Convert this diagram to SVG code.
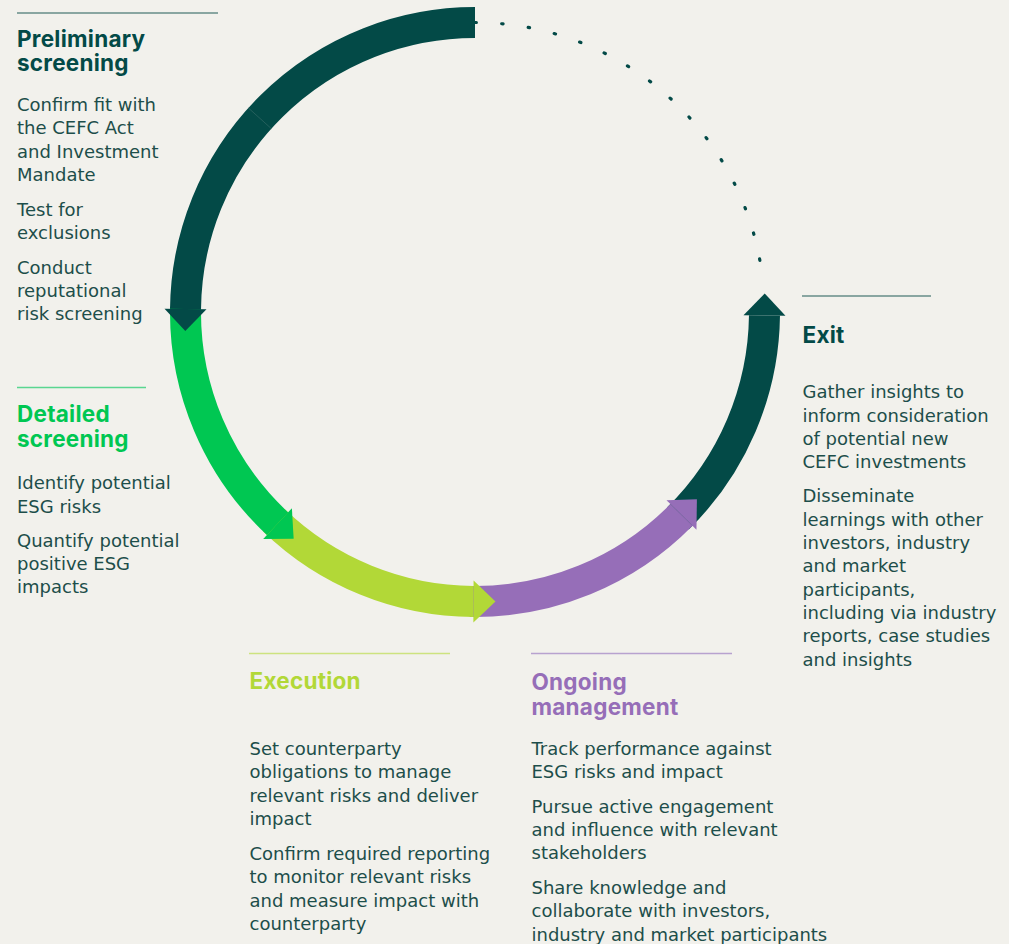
<svg xmlns="http://www.w3.org/2000/svg" xmlns:xlink="http://www.w3.org/1999/xlink" width="1009" height="944" viewBox="0 0 1009 944">
  <style>
    .bg { fill: #f2f1ec; }
    .band { fill: none; stroke-width: 31; stroke-linecap: butt; }
    .dots { fill: none; stroke: #034a47; stroke-width: 3.2; stroke-linecap: round; stroke-dasharray: 1.4 25.348; }
    .rule { stroke-width: 1.3; fill: none; }
    .title { font-family: Inter, "DejaVu Sans", sans-serif; font-weight: 700; font-size: 22.5px; letter-spacing: 0.25px; }
    .body { font-family: "DejaVu Sans", "Liberation Sans", sans-serif; font-size: 18px; fill: #1d4e4a; }
    .dark { fill: #034a47; }
    .green { fill: #00c752; }
    .lime { fill: #b2d837; }
    .purple { fill: #966eb8; }
  </style>
  <defs>
    <!-- arrowhead drawn at angle 0 on the ring (r = 289.5), pointing in the direction of travel -->
    <polygon id="head" points="743.5,312 785.5,312 764.5,290"/>
  </defs>

  <rect class="bg" x="0" y="0" width="1009" height="944"/>

  <!-- ring of stages, centre (475,312), radius 289.5 -->
  <g id="connectors">
    <path class="dots" d="M475,22.5 A289.5,289.5 0 0 1 763.26,285.26"/>

    <path class="band" stroke="#034a47" d="M677.91,518.49 A289.5,289.5 0 0 0 764.48,315.54"/>
    <use xlink:href="#head" class="dark" transform="rotate(0.7 475 312)"/>

    <path class="band" stroke="#966eb8" d="M469.95,601.46 A289.5,289.5 0 0 0 681.49,514.91"/>
    <use xlink:href="#head" class="purple" transform="rotate(44.5 475 312)"/>

    <path class="band" stroke="#b2d837" d="M273.90,520.25 A289.5,289.5 0 0 0 473.48,601.50"/>
    <use xlink:href="#head" class="lime" transform="rotate(90.3 475 312)"/>

    <path class="band" stroke="#00c752" d="M185.54,306.95 A289.5,289.5 0 0 0 277.56,523.73"/>
    <use xlink:href="#head" class="green" transform="rotate(133 475 312)"/>

    <path class="band" stroke="#034a47" d="M475,22.5 A289.5,289.5 0 0 0 185.52,308.97"/>
    <line x1="248.3" y1="107.9" x2="271.4" y2="128.7" stroke="#3d6f6b" stroke-width="0.6"/>
    <use xlink:href="#head" class="dark" transform="rotate(180.6 475 312)"/>
  </g>

  <g id="stage-preliminary">
    <line class="rule" x1="17" y1="13" x2="218" y2="13" stroke="#668c88"/>
    <text class="title dark" x="17" y="46.5">Preliminary<tspan x="17" dy="24.5">screening</tspan></text>
    <text class="body" x="17" y="111">Confirm fit with</text>
    <text class="body" x="17" y="134.3">the CEFC Act</text>
    <text class="body" x="17" y="157.7">and Investment</text>
    <text class="body" x="17" y="181">Mandate</text>
    <text class="body" x="17" y="215.7">Test for</text>
    <text class="body" x="17" y="239">exclusions</text>
    <text class="body" x="17" y="273.5">Conduct</text>
    <text class="body" x="17" y="296.8">reputational</text>
    <text class="body" x="17" y="320.1">risk screening</text>
  </g>

  <g id="stage-detailed">
    <line class="rule" x1="17" y1="387.5" x2="146" y2="387.5" stroke="#5ad690"/>
    <text class="title green" x="17" y="422.3">Detailed<tspan x="17" dy="25">screening</tspan></text>
    <text class="body" x="17" y="489.3">Identify potential</text>
    <text class="body" x="17" y="512.5">ESG risks</text>
    <text class="body" x="17" y="546.8">Quantify potential</text>
    <text class="body" x="17" y="570">positive ESG</text>
    <text class="body" x="17" y="593.2">impacts</text>
  </g>

  <g id="stage-execution">
    <line class="rule" x1="249" y1="653.5" x2="450" y2="653.5" stroke="#cde37f"/>
    <text class="title lime" x="249.5" y="689.3">Execution</text>
    <text class="body" x="249.5" y="755">Set counterparty</text>
    <text class="body" x="249.5" y="778.3">obligations to manage</text>
    <text class="body" x="249.5" y="801.7">relevant risks and deliver</text>
    <text class="body" x="249.5" y="825">impact</text>
    <text class="body" x="249.5" y="860">Confirm required reporting</text>
    <text class="body" x="249.5" y="883.3">to monitor relevant risks</text>
    <text class="body" x="249.5" y="906.7">and measure impact with</text>
    <text class="body" x="249.5" y="930">counterparty</text>
  </g>

  <g id="stage-ongoing">
    <line class="rule" x1="531" y1="653.5" x2="732" y2="653.5" stroke="#b8a2cf"/>
    <text class="title purple" x="531.5" y="690">Ongoing<tspan x="531.5" dy="24.5">management</tspan></text>
    <text class="body" x="531.5" y="755">Track performance against</text>
    <text class="body" x="531.5" y="778.3">ESG risks and impact</text>
    <text class="body" x="531.5" y="812.7">Pursue active engagement</text>
    <text class="body" x="531.5" y="836">and influence with relevant</text>
    <text class="body" x="531.5" y="859.3">stakeholders</text>
    <text class="body" x="531.5" y="894">Share knowledge and</text>
    <text class="body" x="531.5" y="917.3">collaborate with investors,</text>
    <text class="body" x="531.5" y="940.6">industry and market participants</text>
  </g>

  <g id="stage-exit">
    <line class="rule" x1="802" y1="296" x2="931" y2="296" stroke="#668c88"/>
    <text class="title dark" x="802.5" y="343.3">Exit</text>
    <text class="body" x="802.5" y="398.3">Gather insights to</text>
    <text class="body" x="802.5" y="421.6">inform consideration</text>
    <text class="body" x="802.5" y="444.9">of potential new</text>
    <text class="body" x="802.5" y="468.2">CEFC investments</text>
    <text class="body" x="802.5" y="502.4">Disseminate</text>
    <text class="body" x="802.5" y="525.7">learnings with other</text>
    <text class="body" x="802.5" y="549">investors, industry</text>
    <text class="body" x="802.5" y="572.3">and market</text>
    <text class="body" x="802.5" y="595.6">participants,</text>
    <text class="body" x="802.5" y="618.9">including via industry</text>
    <text class="body" x="802.5" y="642.2">reports, case studies</text>
    <text class="body" x="802.5" y="665.5">and insights</text>
  </g>
</svg>
